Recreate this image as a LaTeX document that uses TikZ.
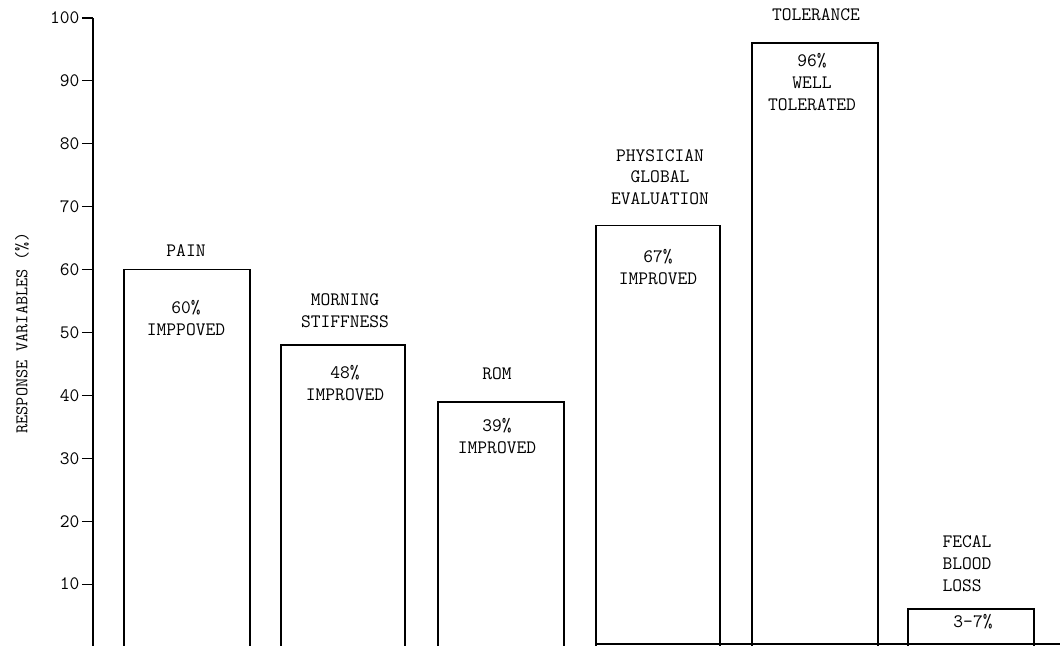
\documentclass[tikz,border=0pt]{standalone}
\usepackage{tikz}

\begin{document}
\begin{tikzpicture}[x=1cm, y=0.15725cm,
    bar/.style={draw, line width=1.2pt},
    txt/.style={align=center, inner sep=0pt, font=\ttfamily\fontsize{13.5}{15.6}\selectfont}]
    \useasboundingbox (-2.325, 0.318) rectangle (24.175, 102.86);

    % axis
    \draw[line width=1.2pt] (0,0) -- (0,100);
    \foreach \v in {10,20,...,100}
        \draw[line width=0.8pt] (-0.275,\v) -- (0,\v)
            node[pos=0, anchor=east, inner sep=1.5pt, font=\ttfamily\fontsize{13.5}{14}\selectfont] (t\v) {\v};
    \node[rotate=90, font=\ttfamily\fontsize{12.6}{13}\selectfont] at (-1.775, 49.9) (ylab) {RESPONSE VARIABLES (\%)};

    % bars
    \draw[bar] (0.775,0) rectangle (3.925,60);
    \draw[bar] (4.7,0) rectangle (7.8,48);
    \draw[bar] (8.625,0) rectangle (11.775,39);
    \draw[bar] (12.575,0) rectangle (15.675,67);
    \draw[bar] (16.475,0) rectangle (19.625,96);
    \draw[bar] (20.375,0) rectangle (23.525,6);
    \draw[line width=1pt] (12.575,0.48) -- (24.175,0.48);

    % labels above
    \node[txt] at (2.325, 63.1) (pain) {PAIN};
    \node[txt] at (6.3, 53.4) (ms) {MORNING\\STIFFNESS};
    \node[txt] at (10.1, 43.5) (rom) {ROM};
    \node[txt] at (14.175, 74.7) (pge) {PHYSICIAN\\GLOBAL\\EVALUATION};
    \node[txt] at (18.075, 100.5) (tol) {TOLERANCE};
    \node[txt, align=left] at (21.85, 13.2) (fec) {FECAL\\BLOOD\\LOSS};

    % values inside
    \node[txt] at (2.325, 52.3) (painv) {60\%\\IMPPOVED};
    \node[txt] at (6.3, 42.0) (msv) {48\%\\IMPROVED};
    \node[txt] at (10.1, 33.6) (romv) {39\%\\IMPROVED};
    \node[txt] at (14.125, 60.4) (pgev) {67\%\\IMPROVED};
    \node[txt] at (17.975, 89.8) (tolv) {96\%\\WELL\\TOLERATED};
    \node[txt] at (22.0, 3.97) (fecv) {3-7\%};
\end{tikzpicture}
\end{document}
